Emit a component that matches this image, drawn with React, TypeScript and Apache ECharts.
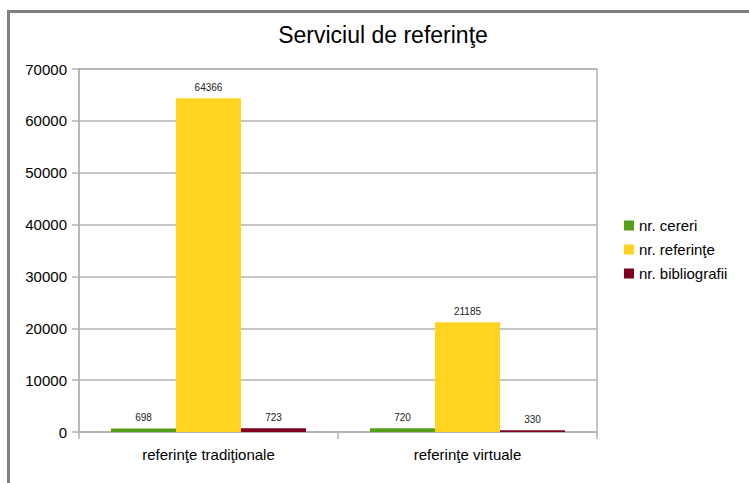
import React, { useEffect, useRef } from "react";
import * as echarts from "echarts";

const categories = ["referinţe tradiţionale", "referinţe virtuale"];
const seriesNames = ["nr. cereri", "nr. referinţe", "nr. bibliografii"];
const cereri = [698, 720];
const referinte = [64366, 21185];
const bibliografii = [723, 330];
const colors = ["#579d1c", "#ffd320", "#7e0021"];

const FONT = "Liberation Sans, Arial, sans-serif";

export default function App() {
  const ref = useRef<HTMLDivElement>(null);
  useEffect(() => {
    if (!ref.current) return;
    const chart = echarts.init(ref.current, null, { renderer: "svg" });
    const values = [cereri, referinte, bibliografii];
    chart.setOption({
      animation: false,
      backgroundColor: "#ffffff",
      textStyle: { fontFamily: FONT },
      title: {
        text: "Serviciul de referinţe",
        left: 378,
        textAlign: "center",
        top: 18,
        textStyle: { fontFamily: FONT, fontSize: 23, fontWeight: "normal", color: "#000" },
      },
      legend: {
        orient: "vertical",
        left: 619,
        top: 213,
        itemWidth: 10,
        itemHeight: 10,
        itemGap: 9,
        icon: "rect",
        data: seriesNames,
        textStyle: { fontFamily: FONT, fontSize: 15, color: "#000" },
      },
      graphic: [
        {
          type: "rect",
          shape: { x: 8.5, y: 11.5, width: 900, height: 700 },
          style: { fill: "none", stroke: "#808080", lineWidth: 3 },
          silent: true,
        },
      ],
      grid: {
        left: 79,
        right: 152,
        top: 69,
        bottom: 51,
        show: true,
        borderColor: "#b3b3b3",
        borderWidth: 1.5,
        backgroundColor: "transparent",
      },
      xAxis: {
        type: "category",
        data: categories,
        axisLine: { lineStyle: { color: "#b3b3b3", width: 1.5 } },
        axisTick: { show: true, length: 7, lineStyle: { color: "#b3b3b3", width: 1.5 } },
        axisLabel: { fontFamily: FONT, fontSize: 15, color: "#000", margin: 15 },
        splitLine: { show: false },
      },
      yAxis: {
        type: "value",
        min: 0,
        max: 70000,
        interval: 10000,
        axisLine: { show: true, lineStyle: { color: "#b3b3b3", width: 1.5 } },
        axisTick: { show: true, length: 7, lineStyle: { color: "#b3b3b3", width: 1.5 } },
        axisLabel: {
          fontFamily: FONT,
          fontSize: 15,
          color: "#000",
          margin: 12,
          formatter: (v: number) => String(v),
        },
        splitLine: { show: true, lineStyle: { color: "#b3b3b3", width: 1.5 } },
      },
      series: seriesNames.map((name, i) => ({
        name,
        type: "bar",
        data: values[i],
        barWidth: 65,
        barGap: "0%",
        itemStyle: { color: colors[i] },
        label: {
          show: true,
          position: "top",
          distance: 6,
          fontFamily: FONT,
          fontSize: 10,
          color: "#222",
        },
      })),
    });
    return () => chart.dispose();
  }, []);
  return (
    <div
      ref={ref}
      style={{ position: "absolute", left: 0, top: 0, width: 749, height: 483 }}
    />
  );
}
